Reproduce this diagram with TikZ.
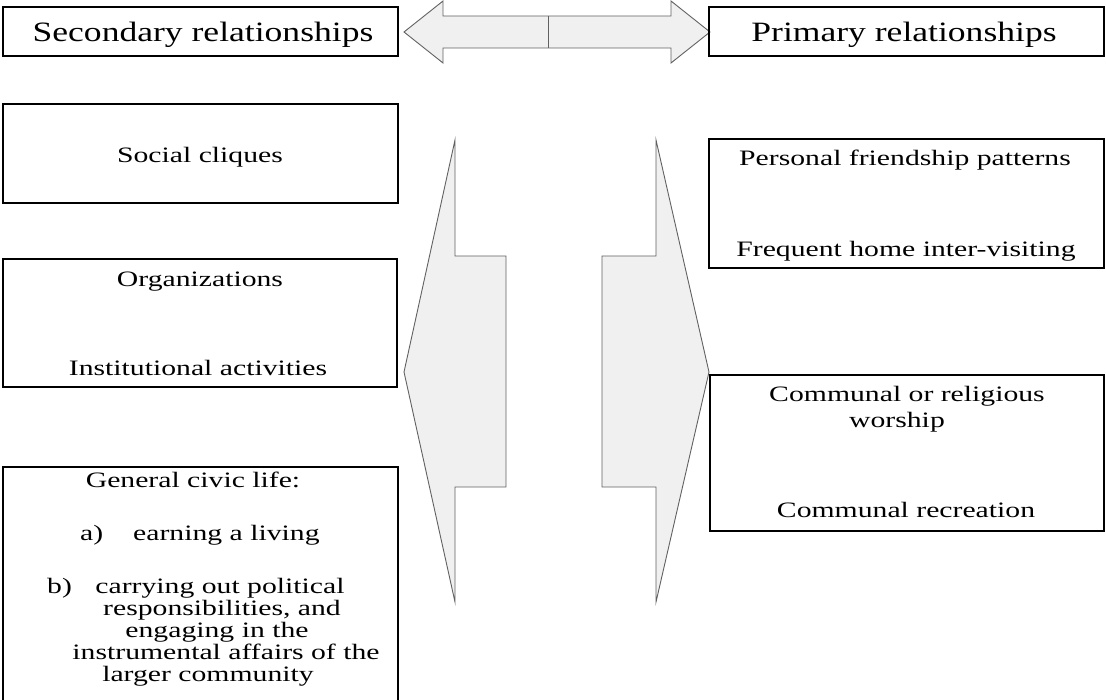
\documentclass[tikz,border=0pt]{standalone}
\usepackage{fontspec}
\setmainfont{Liberation Serif}
\usepackage{graphicx}
\newcommand{\hsb}[1]{\scalebox{1.35}[1]{#1}}
\newcommand{\hst}[1]{\scalebox{1.27}[1]{#1}}
\begin{document}
\begin{tikzpicture}[x=1pt,y=-1pt,
  box/.style={draw=black, line width=1.2pt, inner sep=0pt, rectangle},
  blockarrow/.style={draw=black!62, fill=black!6, line width=0.9pt, line join=miter},
  big/.style={font=\fontsize{28}{32}\selectfont, inner sep=0pt, anchor=base},
  txt/.style={font=\fontsize{22}{22}\selectfont, inner sep=0pt, anchor=base},
  txtw/.style={txt, anchor=base west}]
\clip (0,0) rectangle (1106,700);
\useasboundingbox (0,0) rectangle (1106,700);

% block arrows
\draw[blockarrow] (404,32) -- (443,1) -- (443,16) -- (671,16) -- (671,1) -- (710,32)
  -- (671,63) -- (671,48) -- (443,48) -- (443,63) -- cycle;
\coordinate (midtop) at (548,16);
\coordinate (midbot) at (548,48);
\draw[blockarrow] (midtop) -- (midbot);
\draw[blockarrow] (404,372) -- (455,140) -- (455,256) -- (506,256) -- (506,487)
  -- (455,487) -- (455,602) -- cycle;
\draw[blockarrow] (709,372) -- (656,140) -- (656,256) -- (602,256) -- (602,487)
  -- (656,487) -- (656,602) -- cycle;

% boxes
\node[box, minimum width=395pt, minimum height=49pt] (sec) at (200.5,31.5) {};
\node[box, minimum width=395pt, minimum height=49pt] (pri) at (906.5,31.5) {};
\node[box, minimum width=395pt, minimum height=99pt] (soc) at (200.5,153.5) {};
\node[box, minimum width=394pt, minimum height=128pt] (org) at (200,323) {};
\node[box, minimum width=395pt, minimum height=253pt] (civ) at (200.5,593.5) {};
\node[box, minimum width=395pt, minimum height=129pt] (pers) at (906.5,203.5) {};
\node[box, minimum width=394pt, minimum height=156pt] (comm) at (907,453) {};

% texts
\node[big] (tsec) at (203,42) {\hst{Secondary relationships}};
\node[big] (tpri) at (904,42) {\hst{Primary relationships}};
\node[txt] (tsoc) at (200,163) {\hsb{Social cliques}};
\node[txt] (torg) at (200,287) {\hsb{Organizations}};
\node[txt] (tins) at (198,376) {\hsb{Institutional activities}};
\node[txt] (tpers) at (905,166) {\hsb{Personal friendship patterns}};
\node[txt] (tfreq) at (906,257) {\hsb{Frequent home inter-visiting}};
\node[txt] (tcom1) at (907,402) {\hsb{Communal or religious}};
\node[txt] (tcom2) at (897,428) {\hsb{worship}};
\node[txt] (tcrec) at (906,517) {\hsb{Communal recreation}};
\node[txt] (tgen) at (193,487) {\hsb{General civic life:}};
\node[txtw] (ta) at (80,540) {\hsb{a)}};
\node[txtw] (tearn) at (133,540) {\hsb{earning a living}};
\node[txtw] (tb) at (47,593) {\hsb{b)}};
\node[txt] (tb1) at (220,593) {\hsb{carrying out political}};
\node[txt] (tb2) at (222,615) {\hsb{responsibilities, and}};
\node[txt] (tb3) at (217,637) {\hsb{engaging in the}};
\node[txt] (tb4) at (226,659) {\hsb{instrumental affairs of the}};
\node[txt] (tb5) at (208,681) {\hsb{larger community}};
\end{tikzpicture}
\end{document}
